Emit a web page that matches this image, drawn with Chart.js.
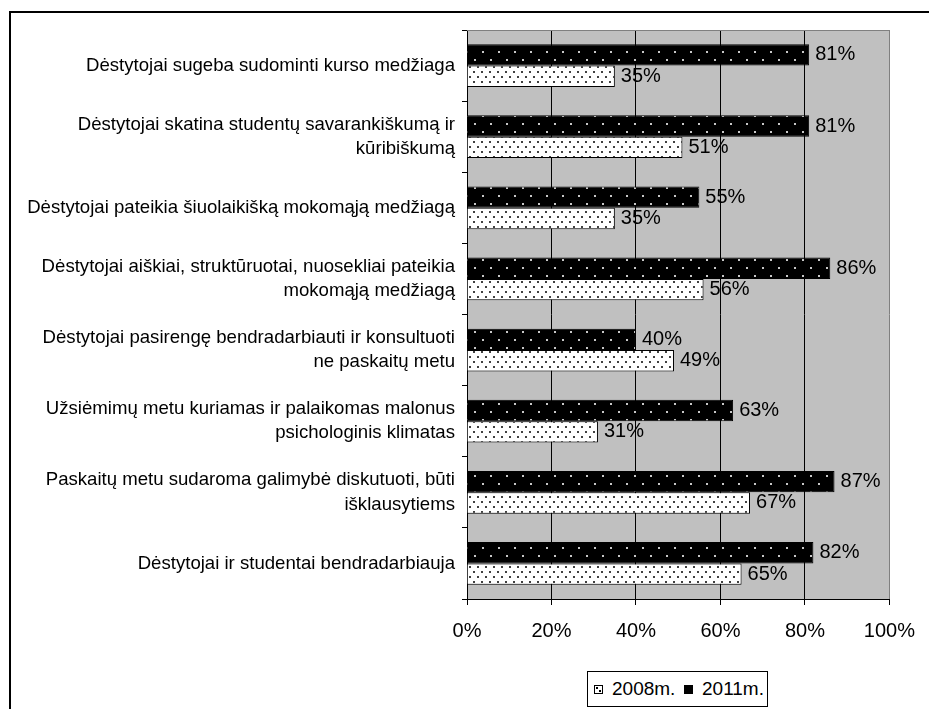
<!DOCTYPE html>
<html><head><meta charset="utf-8">
<script src="https://cdn.jsdelivr.net/npm/chart.js@4.4.1/dist/chart.umd.min.js"></script>
<style>
html,body{margin:0;padding:0;background:#fff;overflow:hidden;}
#wrap{position:relative;width:929px;height:709px;overflow:hidden;}
#frame{position:absolute;left:9px;top:11px;width:1000px;height:800px;border:2px solid #000;box-sizing:border-box;}
#c{position:absolute;left:0;top:0;}
#legend{position:absolute;left:587px;top:671px;width:181px;height:36px;border:1px solid #000;box-sizing:border-box;background:#fff;font:19px "Liberation Sans",Arial,sans-serif;color:#000;}
#legend .item{position:absolute;top:0;height:34px;display:flex;align-items:center;}
#legend .sw{width:9px;height:9px;border:1px solid #000;margin-right:9px;box-sizing:border-box;}
</style>
</head><body>
<div id="wrap">
<div id="frame"></div>
<canvas id="c" width="929" height="709"></canvas>
<div id="legend"></div>
</div>
<script>
const categories = [
  "Dėstytojai sugeba sudominti kurso medžiaga",
  ["Dėstytojai skatina studentų savarankiškumą ir", "kūribiškumą"],
  "Dėstytojai pateikia šiuolaikišką mokomąją medžiagą",
  ["Dėstytojai aiškiai, struktūruotai, nuosekliai pateikia", "mokomąją medžiagą"],
  ["Dėstytojai pasirengę bendradarbiauti ir konsultuoti", "ne paskaitų metu"],
  ["Užsiėmimų metu kuriamas ir palaikomas malonus", "psichologinis klimatas"],
  ["Paskaitų metu sudaroma galimybė diskutuoti, būti", "išklausytiems"],
  "Dėstytojai ir studentai bendradarbiauja"
];
const values2011 = [81, 81, 55, 86, 40, 63, 87, 82];
const values2008 = [35, 51, 35, 56, 49, 31, 67, 65];
const seriesNames = ["2011m.", "2008m."];
const xTickStep = 20;
const xMin = 0, xMax = 100;

Chart.defaults.font.family = '"Liberation Sans", Arial, sans-serif';
Chart.defaults.color = '#000';

function makePattern(bg, dot, w, h, pts, size) {
  const cv = document.createElement('canvas');
  cv.width = w; cv.height = h;
  const g = cv.getContext('2d');
  g.fillStyle = bg; g.fillRect(0, 0, w, h);
  g.fillStyle = dot;
  pts.forEach(p => g.fillRect(p[0], p[1], size, size));
  return document.getElementById('c').getContext('2d').createPattern(cv, 'repeat');
}
const patBlack = makePattern('#000', '#c8c8c8', 16, 16, [[2, 3], [10, 11]], 2);
const patWhite = makePattern('#fff', '#404040', 8, 10, [[1, 1], [5, 6]], 2);

const bgPlugin = {
  id: 'plotBg',
  beforeDraw(chart) {
    const a = chart.chartArea, ctx = chart.ctx;
    ctx.save();
    ctx.fillStyle = '#c0c0c0';
    ctx.fillRect(a.left, a.top, a.right - a.left, a.bottom - a.top);
    ctx.restore();
  },
  afterDraw(chart) {
    const a = chart.chartArea, ctx = chart.ctx;
    ctx.save();
    ctx.strokeStyle = '#808080';
    ctx.lineWidth = 1;
    ctx.beginPath();
    ctx.moveTo(a.left, Math.round(a.top) + 0.5);
    ctx.lineTo(a.right, Math.round(a.top) + 0.5);
    ctx.stroke();
    ctx.restore();
  }
};

const valueLabels = {
  id: 'valueLabels',
  afterDatasetsDraw(chart) {
    const ctx = chart.ctx;
    ctx.save();
    ctx.font = '20px "Liberation Sans", Arial, sans-serif';
    ctx.fillStyle = '#000';
    ctx.textAlign = 'left';
    ctx.textBaseline = 'middle';
    chart.data.datasets.forEach((ds, di) => {
      const meta = chart.getDatasetMeta(di);
      meta.data.forEach((el, i) => {
        ctx.fillText(ds.data[i] + '%', el.x + 6, el.y);
      });
    });
    ctx.restore();
  }
};

const chart = new Chart(document.getElementById('c'), {
  type: 'bar',
  data: {
    labels: categories,
    datasets: [
      { label: seriesNames[0], data: values2011, backgroundColor: patBlack, borderColor: '#000', borderWidth: 1, categoryPercentage: 0.6, barPercentage: 1 },
      { label: seriesNames[1], data: values2008, backgroundColor: patWhite, borderColor: '#000', borderWidth: 1, categoryPercentage: 0.6, barPercentage: 1 }
    ]
  },
  options: {
    indexAxis: 'y',
    responsive: false,
    animation: false,
    devicePixelRatio: 1,
    layout: { padding: { left: 0, right: 38, top: 30, bottom: 0 } },
    plugins: { legend: { display: false }, tooltip: { enabled: false } },
    scales: {
      x: {
        min: xMin, max: xMax,
        ticks: { stepSize: xTickStep, callback: v => v + '%', font: { size: 20 }, color: '#000', padding: 14 },
        grid: {
          color: c => (c.tick && c.tick.value === xMax) ? '#808080' : '#000',
          tickColor: '#000', tickLength: 6, lineWidth: 1
        },
        border: { color: '#000', width: 1 },
        afterFit: s => { s.height = 110; }
      },
      y: {
        ticks: { font: { size: 18.6, lineHeight: 1.3 }, color: '#000', padding: 7, autoSkip: false },
        grid: { drawOnChartArea: false, tickLength: 5, color: '#000', offset: true },
        border: { color: '#000', width: 1 },
        afterFit: s => { s.width = 467; }
      }
    }
  },
  plugins: [bgPlugin, valueLabels]
});

// HTML legend (reverse order: 2008m. first)
const legend = document.getElementById('legend');
const pos = [[6, 'dot'], [96, 'solid']];
chart.data.datasets.slice().reverse().forEach((ds, i) => {
  const it = document.createElement('div');
  it.className = 'item';
  it.style.left = pos[i][0] + 'px';
  const sw = document.createElement('span');
  sw.className = 'sw';
  if (pos[i][1] === 'solid') { sw.style.background = '#000'; }
  else { sw.style.background = '#fff'; sw.style.backgroundImage = 'radial-gradient(circle at 30% 30%, #000 0 1px, transparent 1.2px), radial-gradient(circle at 70% 70%, #000 0 1px, transparent 1.2px)'; }
  const tx = document.createElement('span');
  tx.textContent = ds.label;
  it.appendChild(sw); it.appendChild(tx);
  legend.appendChild(it);
});
</script>
</body></html>
